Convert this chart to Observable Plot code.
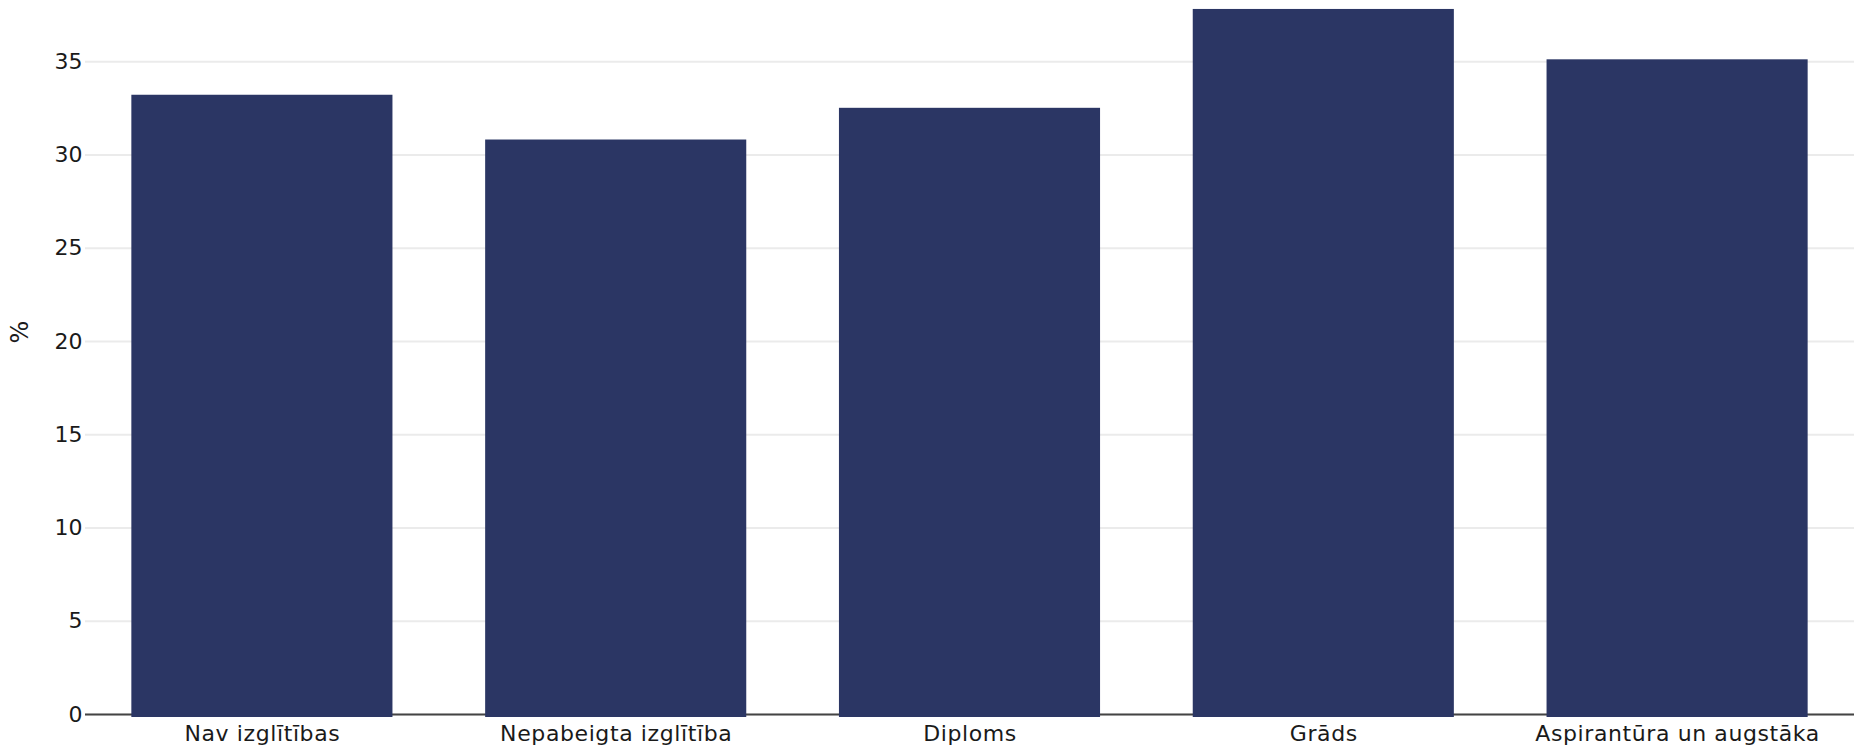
<!DOCTYPE html>
<html>
<head>
<meta charset="utf-8">
<script src="https://cdn.jsdelivr.net/npm/d3@7"></script>
<script src="https://cdn.jsdelivr.net/npm/@observablehq/plot@0.6"></script>
<style>
  html, body { margin: 0; padding: 0; background: #fff; }
  #chart svg { display: block; }
  #chart g[aria-label="x-axis tick label"] text { letter-spacing: 0.6px; }
</style>
</head>
<body>
<div id="chart"></div>
<script>
const categories = ["Nav izglītības", "Nepabeigta izglītība", "Diploms", "Grāds", "Aspirantūra un augstāka"];
const values = [33.2, 30.8, 32.5, 37.8, 35.1];
const yTicks = [0, 5, 10, 15, 20, 25, 30, 35];
const yLabel = "%";

const data = categories.map((c, i) => ({category: c, value: values[i]}));

const chart = Plot.plot({
  width: 1854,
  height: 750,
  marginLeft: 85,
  marginRight: 0,
  marginTop: 0,
  marginBottom: 36,
  style: {fontFamily: "'DejaVu Sans', 'Open Sans', sans-serif", fontSize: "22px", color: "#1a1a1a", background: "#fff"},
  x: {domain: categories, paddingInner: 0.262, paddingOuter: 0.131, round: false, label: null},
  y: {domain: [0, 38.28], label: null},
  marks: [
    Plot.gridY(yTicks, {stroke: "#ebebeb", strokeOpacity: 1, strokeWidth: 2}),
    Plot.ruleY([0], {stroke: "#444", strokeWidth: 2}),
    Plot.barY(data, {x: "category", y: "value", fill: "#2b3664", insetBottom: -3}),
    Plot.axisX({tickSize: 0, tickPadding: 11, label: null, fontSize: 22}),
    Plot.axisY(yTicks, {tickSize: 0, tickPadding: 3, label: null, fontSize: 22}),
    Plot.text([yLabel], {text: d => d, frameAnchor: "left", rotate: -90, dx: -65, dy: -14, fontSize: 24, fill: "#1a1a1a"})
  ]
});
document.getElementById("chart").appendChild(chart);
</script>
</body>
</html>
